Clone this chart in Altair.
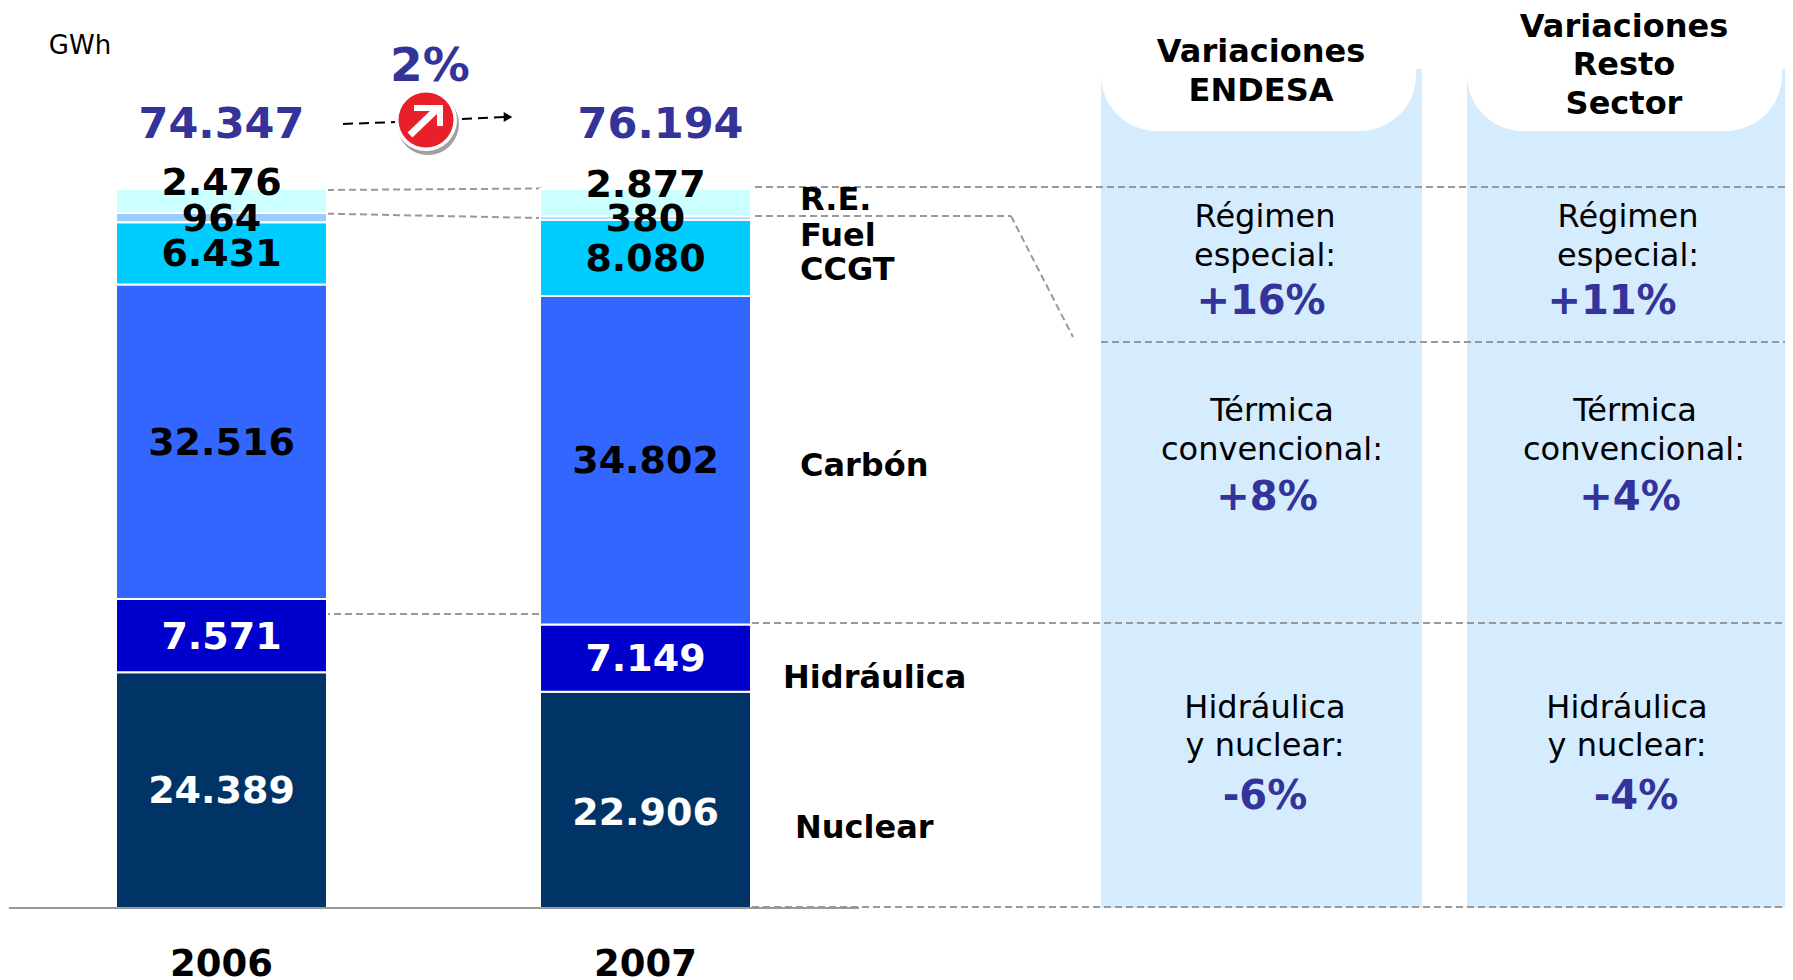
import altair as alt
import pandas as pd

YEARS = ["2006", "2007"]
SOURCES = ["Nuclear", "Hidráulica", "Carbón", "CCGT", "Fuel", "R.E."]
VALUES_2006 = [24389, 7571, 32516, 6431, 964, 2476]
VALUES_2007 = [22906, 7149, 34802, 8080, 380, 2877]
TOTALS = [74347, 76194]
COLORS = ["#003366", "#0000CC", "#3366FF", "#00CCFF", "#99CCFF", "#CCFFFF"]

FONT = "DejaVu Sans"
BLUE = "#333399"
GREY = "#999999"
PANEL = "#D5ECFE"
M = 8  # page margin: reference pixels minus this are chart pixels


def es(v):
    return f"{v:,}".replace(",", ".")


rows = []
for y, vals in zip(YEARS, [VALUES_2006, VALUES_2007]):
    for i, (s, v) in enumerate(zip(SOURCES, vals)):
        rows.append({"year": y, "source": s, "value": v, "order": i, "label": es(v)})
df = pd.DataFrame(rows)
totals = pd.DataFrame({"year": YEARS, "label": [es(t) for t in TOTALS]})
one = alt.Data(values=[{}])

x_scale = alt.Scale(type="band", domain=YEARS, range=[108, 743], paddingInner=0.5024, paddingOuter=0)
y_scale = alt.Scale(domain=[0, 1], range=[900, 181], nice=False, zero=False)
X = alt.X("year:N", scale=x_scale, axis=None)


def rect(x0, x1, y0, y1, color, **kw):
    return alt.Chart(one).mark_rect(color=color, **kw).encode(
        x=alt.value(x0 - M), x2=alt.value(x1 - M), y=alt.value(y0 - M), y2=alt.value(y1 - M))


def line(x0, y0, x1, y1, color=GREY, width=2, dash=(7, 4)):
    kw = {"strokeDash": list(dash)} if dash else {}
    return alt.Chart(one).mark_rule(color=color, strokeWidth=width, **kw).encode(
        x=alt.value(x0 - M), x2=alt.value(x1 - M), y=alt.value(y0 - M), y2=alt.value(y1 - M))


def text(s, x, y, size, color="black", bold=False, align="center"):
    return alt.Chart(one).mark_text(
        text=s, font=FONT, fontSize=size, fontWeight="bold" if bold else "normal",
        color=color, align=align, baseline="middle",
    ).encode(x=alt.value(x - M), y=alt.value(y - M))


def dot(x, y, r, color, shape="circle"):
    return alt.Chart(one).mark_point(
        shape=shape, filled=True, color=color, opacity=1, size=4 * r * r
    ).encode(x=alt.value(x - M), y=alt.value(y - M))


layers = []

# side panels; the white header shape runs up past the panel top so that its
# large bottom corners are not clamped to half its visible height
for x0, x1, wx1 in [(1101, 1422, 1416), (1467, 1788, 1782)]:
    layers.append(rect(x0, x1, 69, 908, PANEL))
    layers.append(rect(x0, wx1, 9, 131, "white", cornerRadiusBottomLeft=56, cornerRadiusBottomRight=56))

# connector lines
layers += [
    line(327, 190, 542, 188.5),
    line(755, 187, 1786, 187),
    line(327, 213.7, 540, 218),
    line(755, 216, 1011, 216),
    line(1011, 216, 1073, 337),
    line(1101, 342, 1793, 342),
    line(323, 614, 541, 614),
    line(752, 623, 1786, 623),
    line(752, 907, 1786, 907),
]

# stacked bars
stacked = alt.Chart(df).transform_stack(
    stack="value", as_=["y0", "y1"], groupby=["year"],
    sort=[alt.SortField("order", order="ascending")], offset="normalize",
).transform_calculate(mid="(datum.y0 + datum.y1) / 2")

layers.append(stacked.mark_bar(stroke="white", strokeWidth=2).encode(
    x=X,
    y=alt.Y("y0:Q", scale=y_scale, axis=None),
    y2="y1:Q",
    color=alt.Color("source:N", scale=alt.Scale(domain=SOURCES, range=COLORS), legend=None),
))

# baseline on top of the bars
layers.append(line(9, 908, 859, 908, dash=None))

label_color = alt.condition("datum.order < 2", alt.value("white"), alt.value("black"))
for test, dy in [
    ("datum.source != 'R.E.' && !(datum.source == 'Nuclear' && datum.year == '2007')", 2),
    ("datum.source == 'R.E.'", -17),
    ("datum.source == 'Nuclear' && datum.year == '2007'", 14),
]:
    layers.append(stacked.transform_filter(test).mark_text(
        font=FONT, fontSize=38, fontWeight="bold", baseline="middle", dy=dy,
    ).encode(
        x=X, y=alt.Y("mid:Q", scale=y_scale, axis=None),
        text="label:N", color=label_color,
    ))

# totals above the bars
for year, dx in zip(YEARS, [0, 15]):
    layers.append(alt.Chart(totals).transform_filter(f"datum.year == '{year}'").mark_text(
        font=FONT, fontSize=43, fontWeight="bold", color=BLUE, baseline="middle", dx=dx,
    ).encode(x=X, y=alt.value(125 - M), text="label:N"))

# year labels
layers.append(alt.Chart(totals).mark_text(
    font=FONT, fontSize=37, fontWeight="bold", color="black", baseline="middle",
).encode(x=X, y=alt.value(965 - M), text="year:N"))

# growth badge
layers += [
    line(343, 124, 395, 122, color="black", dash=(10, 6)),
    line(462, 119, 506, 117, color="black", dash=(10, 6)),
    dot(508, 117, 5, "black", "triangle-right"),
    dot(428, 124, 31, "#A0A0A0"),
    dot(426, 120, 31, "white"),
    dot(426, 120, 27.5, "#E8202A"),
    line(410, 135, 436, 110, color="white", width=7, dash=None),
    line(414, 108, 440, 108, color="white", width=6, dash=None),
    line(440, 105, 440, 126, color="white", width=6, dash=None),
    text("2%", 430, 67, 47, BLUE, True),
    text("GWh", 80, 46, 26),
]

# category labels
for s, x, y in [
    ("R.E.", 800, 200), ("Fuel", 800, 236), ("CCGT", 800, 270),
    ("Carbón", 800, 466), ("Hidráulica", 783, 678), ("Nuclear", 795, 828),
]:
    layers.append(text(s, x, y, 32, "black", True, "left"))

# panel headers and contents
for s, x, y in [
    ("Variaciones", 1261, 52), ("ENDESA", 1261, 91),
    ("Variaciones", 1624, 27), ("Resto", 1624, 65), ("Sector", 1624, 104),
]:
    layers.append(text(s, x, y, 32, "black", True))

for s, x, y in [
    ("Régimen", 1265, 217), ("especial:", 1265, 256),
    ("Régimen", 1628, 217), ("especial:", 1628, 256),
    ("Térmica", 1272, 411), ("convencional:", 1272, 450),
    ("Térmica", 1635, 411), ("convencional:", 1634, 450),
    ("Hidráulica", 1265, 708), ("y nuclear:", 1265, 746),
    ("Hidráulica", 1627, 708), ("y nuclear:", 1627, 746),
]:
    layers.append(text(s, x, y, 32))

for s, x, y in [
    ("+16%", 1261, 302), ("+11%", 1612, 302),
    ("+8%", 1267, 498), ("+4%", 1630, 498),
    ("-6%", 1265, 797), ("-4%", 1636, 797),
]:
    layers.append(text(s, x, y, 40, BLUE, True))

chart = alt.layer(*layers).properties(
    width=1777, height=972, padding=0, autosize=alt.AutoSizeParams(type="none"),
).configure_view(stroke=None)

chart.save("out.html", embed_options={"renderer": "svg", "actions": False})
